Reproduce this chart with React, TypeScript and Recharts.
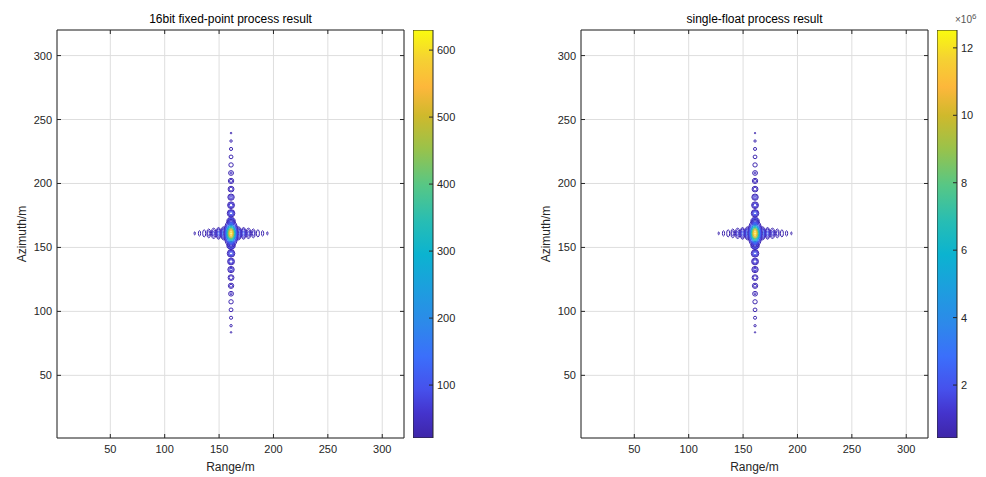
import { ScatterChart, Scatter, BarChart, Bar, XAxis, YAxis, CartesianGrid, ReferenceArea } from "recharts";

const axisTicks = [50, 100, 150, 200, 250, 300];
const axisDomain = [1, 320];

// point target position (range, azimuth) in metres
const targetRange = 161;
const targetAzimuth = 161;

// sidelobe positions
const azimuthLobesUp = [170.5, 176.7, 183, 189.3, 195.6, 202, 208.2, 214.5, 220.8, 227, 233.2, 239.4];
const azimuthLobesDown = [151.5, 145.3, 139, 132.7, 126.4, 120, 113.8, 107.5, 101.2, 95, 88.8, 83.6];
const rangeLobesRight = [168, 172.5, 177, 181.5, 185.7, 190, 194.4];
const rangeLobesLeft = [154, 149.5, 145, 140.5, 136.3, 132, 127.6];

// 16bit fixed-point result
const fixedPeak = 630;
const fixedAzimuthAmp = [190, 135, 105, 88, 74, 64, 56, 50, 44, 39, 35, 32];
const fixedRangeAmp = [170, 120, 88, 66, 50, 40, 33];
const fixedLevels = [30, 50, 75, 105, 150, 200, 250, 300, 350, 400, 450, 500, 550, 600];
const fixedColorDomain = [21, 630];
const fixedColorTicks = [100, 200, 300, 400, 500, 600];

// single-float result (x1e6)
const floatPeak = 12.5;
const floatAzimuthAmp = [3.77, 2.68, 2.08, 1.75, 1.47, 1.27, 1.11, 0.99, 0.87, 0.77, 0.69, 0.63];
const floatRangeAmp = [3.37, 2.38, 1.75, 1.31, 0.99, 0.79, 0.65];
const floatLevels = [0.6, 1.0, 1.5, 2.1, 3, 4, 5, 6, 7, 8, 9, 10, 11, 12];
const floatColorDomain = [0.43, 12.53];
const floatColorTicks = [2, 4, 6, 8, 10, 12];

const parulaStops: [number, string][] = [
  [0.0, "#3e26a8"],
  [0.06, "#4433cc"],
  [0.12, "#4651ec"],
  [0.2, "#3b6ffb"],
  [0.28, "#2d89ea"],
  [0.36, "#1e9ddf"],
  [0.45, "#0bb3d0"],
  [0.53, "#27bdb4"],
  [0.62, "#57c785"],
  [0.71, "#9ac24a"],
  [0.79, "#cfb92c"],
  [0.86, "#fdb73b"],
  [0.93, "#f5d232"],
  [1.0, "#f9fb0e"],
];

const hex = (h: string) => [1, 3, 5].map((i) => parseInt(h.slice(i, i + 2), 16));

const parula = (t: number) => {
  const v = Math.max(0, Math.min(1, t));
  for (let i = 1; i < parulaStops.length; i++) {
    const [t1, c1] = parulaStops[i];
    if (v <= t1) {
      const [t0, c0] = parulaStops[i - 1];
      const f = (v - t0) / (t1 - t0);
      const a = hex(c0);
      const b = hex(c1);
      return `rgb(${a.map((x, k) => Math.round(x + (b[k] - x) * f)).join(",")})`;
    }
  }
  return parulaStops[parulaStops.length - 1][1];
};

const FONT = "'Liberation Sans', Arial, sans-serif";
const AXIS_COLOR = "#262626";
const PLOT_W = 347;
const PLOT_H = 408;

// contour rings of a gaussian-like lobe: radius grows with sqrt(ln(peak/level))
const ringShape = (rx: number, ry: number, levels: number[], lo: number, hi: number) => (props: any) => {
  const { cx, cy, payload } = props;
  const rings = levels.filter((l) => l < payload.amp);
  return (
    <g>
      {rings.map((l) => {
        const f = Math.sqrt(Math.log(payload.amp / l));
        return (
          <ellipse
            key={l}
            cx={cx}
            cy={cy}
            rx={Math.max(0.6, rx * f)}
            ry={Math.max(0.6, ry * f)}
            fill="none"
            stroke={parula((l - lo) / (hi - lo))}
            strokeWidth={1}
          />
        );
      })}
    </g>
  );
};

const XTick = (props: any) => {
  const { x, y, payload } = props;
  return (
    <g>
      <line x1={x} x2={x} y1={y} y2={y - 4} stroke={AXIS_COLOR} />
      <line x1={x} x2={x} y1={y - PLOT_H} y2={y - PLOT_H + 4} stroke={AXIS_COLOR} />
      <text x={x} y={y + 15} textAnchor="middle" fontSize={11} fill={AXIS_COLOR} fontFamily={FONT}>
        {payload.value}
      </text>
    </g>
  );
};

const YTick = (props: any) => {
  const { x, y, payload } = props;
  return (
    <g>
      <line x1={x} x2={x + 4} y1={y} y2={y} stroke={AXIS_COLOR} />
      <line x1={x + PLOT_W} x2={x + PLOT_W - 4} y1={y} y2={y} stroke={AXIS_COLOR} />
      <text x={x - 5} y={y + 4} textAnchor="end" fontSize={11} fill={AXIS_COLOR} fontFamily={FONT}>
        {payload.value}
      </text>
    </g>
  );
};

const CbTick = (props: any) => {
  const { x, y, payload } = props;
  return (
    <g>
      <line x1={x} x2={x - 4} y1={y} y2={y} stroke={AXIS_COLOR} />
      <text x={x + 4} y={y + 4} textAnchor="start" fontSize={11} fill={AXIS_COLOR} fontFamily={FONT}>
        {payload.value}
      </text>
    </g>
  );
};

type PanelProps = {
  id: string;
  left: number;
  title: string;
  peak: number;
  azimuthAmp: number[];
  rangeAmp: number[];
  levels: number[];
  colorDomain: number[];
  colorTicks: number[];
  exponent?: boolean;
};

const Panel = ({ id, left, title, peak, azimuthAmp, rangeAmp, levels, colorDomain, colorTicks, exponent }: PanelProps) => {
  const [lo, hi] = colorDomain;
  const azimuthData = [
    ...azimuthLobesUp.map((y, i) => ({ x: targetRange, y, amp: azimuthAmp[i] })),
    ...azimuthLobesDown.map((y, i) => ({ x: targetRange, y, amp: azimuthAmp[i] })),
  ];
  const rangeData = [
    ...rangeLobesRight.map((x, i) => ({ x, y: targetAzimuth, amp: rangeAmp[i] })),
    ...rangeLobesLeft.map((x, i) => ({ x, y: targetAzimuth, amp: rangeAmp[i] })),
  ];
  const mainData = [{ x: targetRange, y: targetAzimuth, amp: peak }];
  const colorbarData = [{ name: "cb", range: colorDomain }];

  return (
    <div style={{ position: "absolute", left, top: 0, width: 462, height: 477 }}>
      <div
        style={{
          position: "absolute",
          left: 57 + PLOT_W / 2,
          top: 19,
          transform: "translate(-50%, -50%)",
          fontFamily: FONT,
          fontSize: 12,
          color: "#000",
          whiteSpace: "nowrap",
        }}
      >
        {title}
      </div>
      <div
        style={{
          position: "absolute",
          left: 57 + PLOT_W / 2,
          top: 467,
          transform: "translate(-50%, -50%)",
          fontFamily: FONT,
          fontSize: 12,
          color: AXIS_COLOR,
          whiteSpace: "nowrap",
        }}
      >
        Range/m
      </div>
      <div
        style={{
          position: "absolute",
          left: 22,
          top: 30 + PLOT_H / 2,
          transform: "translate(-50%, -50%) rotate(-90deg)",
          fontFamily: FONT,
          fontSize: 12,
          color: AXIS_COLOR,
          whiteSpace: "nowrap",
        }}
      >
        Azimuth/m
      </div>
      <div style={{ position: "absolute", left: 0, top: 0 }}>
        <ScatterChart width={420} height={477} margin={{ top: 30, right: 16, bottom: 0, left: 0 }}>
          <CartesianGrid stroke="#dedede" strokeWidth={1} />
          <XAxis
            type="number"
            dataKey="x"
            domain={axisDomain}
            ticks={axisTicks}
            height={39}
            axisLine={false}
            tickLine={false}
            tickSize={0}
            tickMargin={0}
            tick={<XTick />}
            allowDataOverflow
          />
          <YAxis
            type="number"
            dataKey="y"
            domain={axisDomain}
            ticks={axisTicks}
            width={57}
            axisLine={false}
            tickLine={false}
            tickSize={0}
            tickMargin={0}
            tick={<YTick />}
            allowDataOverflow
          />
          <Scatter data={rangeData} isAnimationActive={false} shape={ringShape(2.1, 5, levels, lo, hi)} />
          <Scatter data={azimuthData} isAnimationActive={false} shape={ringShape(3.1, 3, levels, lo, hi)} />
          <Scatter data={mainData} isAnimationActive={false} shape={ringShape(4.2, 8, levels, lo, hi)} />
          <ReferenceArea x1={1} x2={320} y1={1} y2={320} fill="none" stroke={AXIS_COLOR} strokeWidth={1} />
        </ScatterChart>
      </div>
      <div style={{ position: "absolute", left: 413, top: 0 }}>
        <BarChart
          width={60}
          height={477}
          data={colorbarData}
          margin={{ top: 30, right: 0, bottom: 39, left: 0 }}
          barCategoryGap={0}
        >
          <defs>
            <linearGradient id={`cb-${id}`} x1="0" y1="1" x2="0" y2="0">
              {parulaStops.map(([t, c]) => (
                <stop key={t} offset={t} stopColor={c} />
              ))}
            </linearGradient>
          </defs>
          <XAxis dataKey="name" hide />
          <YAxis
            type="number"
            orientation="right"
            domain={colorDomain}
            ticks={colorTicks}
            width={40}
            axisLine={false}
            tickLine={false}
            tickSize={0}
            tickMargin={0}
            tick={<CbTick />}
            allowDataOverflow
          />
          <Bar
            dataKey="range"
            fill={`url(#cb-${id})`}
            stroke={AXIS_COLOR}
            strokeWidth={1}
            isAnimationActive={false}
          />
        </BarChart>
      </div>
      {exponent && (
        <div
          style={{
            position: "absolute",
            left: 431,
            top: 12,
            fontFamily: FONT,
            fontSize: 10,
            color: "#555",
            whiteSpace: "nowrap",
          }}
        >
          ×10<sup style={{ fontSize: 8 }}>6</sup>
        </div>
      )}
    </div>
  );
};

export default function App() {
  return (
    <div style={{ position: "absolute", left: 0, top: 0, width: 986, height: 477, background: "#fff" }}>
      <Panel
        id="fixed"
        left={0}
        title="16bit fixed-point process result"
        peak={fixedPeak}
        azimuthAmp={fixedAzimuthAmp}
        rangeAmp={fixedRangeAmp}
        levels={fixedLevels}
        colorDomain={fixedColorDomain}
        colorTicks={fixedColorTicks}
      />
      <Panel
        id="float"
        left={524}
        title="single-float process result"
        peak={floatPeak}
        azimuthAmp={floatAzimuthAmp}
        rangeAmp={floatRangeAmp}
        levels={floatLevels}
        colorDomain={floatColorDomain}
        colorTicks={floatColorTicks}
        exponent
      />
    </div>
  );
}
